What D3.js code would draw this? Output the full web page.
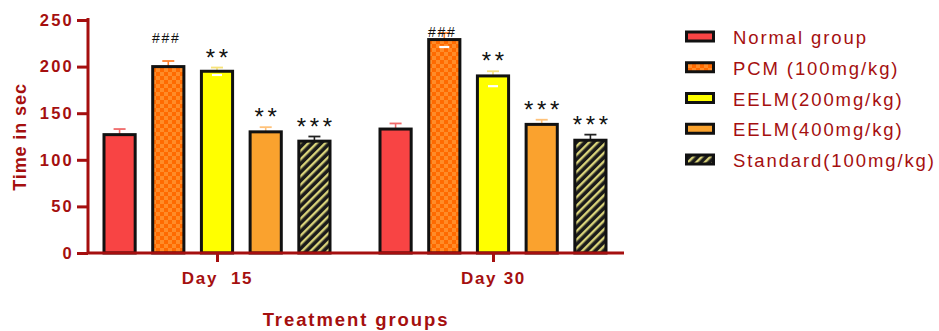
<!DOCTYPE html>
<html>
<head>
<meta charset="utf-8">
<script src="https://cdn.jsdelivr.net/npm/d3@7/dist/d3.min.js"></script>
<style>
  html, body { margin: 0; padding: 0; background: #fff; }
  svg { display: block; }
</style>
</head>
<body>
<svg id="chart" width="939" height="331"></svg>
<script>
// Time points and treatment groups
const days = ["Day  15", "Day 30"];
const groups = ["Normal group", "PCM (100mg/kg)", "EELM(200mg/kg)", "EELM(400mg/kg)", "Standard(100mg/kg)"];

// Mean time (sec) per group, one array per day
const meansDay15 = [127, 200, 195, 130, 120];
const meansDay30 = [133, 229, 190, 138, 121];
// Upper error (SD) per group
const errDay15 = [6, 6, 4, 5, 5];
const errDay30 = [6, 7, 5, 5, 6];
// Lower whisker caps that show through the bar fill (null = hidden)
const lowErrDay15 = [null, null, 4, null, null];
const lowErrDay30 = [null, 8, 11, null, null];
// Significance marks above bars
const sigDay15 = ["", "###", "**", "**", "***"];
const sigDay30 = ["", "###", "**", "***", "***"];

const yTicks = [0, 50, 100, 150, 200, 250];

const axisColor = "#a50f0f";
const fontFam = "Liberation Sans, Arial, sans-serif";
const fills = ["#f84444", "url(#checker)", "#ffff00", "#faa22e", "url(#hatch)"];
const errColors = ["#f06a6a", "#ff7f2a", "#f6e27a", "#ffc27a", "#222"];

const svg = d3.select("#chart");
const defs = svg.append("defs");

// Checkerboard fill for PCM
const chk = defs.append("pattern").attr("id", "checker")
  .attr("patternUnits", "userSpaceOnUse").attr("width", 8).attr("height", 8);
chk.append("rect").attr("width", 8).attr("height", 8).attr("fill", "#ff6a00");
chk.append("rect").attr("width", 4).attr("height", 4).attr("fill", "#ff8c28");
chk.append("rect").attr("x", 4).attr("y", 4).attr("width", 4).attr("height", 4).attr("fill", "#ff8c28");

// Diagonal hatch for Standard
const hat = defs.append("pattern").attr("id", "hatch")
  .attr("patternUnits", "userSpaceOnUse").attr("width", 6).attr("height", 6)
  .attr("patternTransform", "rotate(45)");
hat.append("rect").attr("width", 6).attr("height", 6).attr("fill", "#1a1a1a");
hat.append("rect").attr("x", 0).attr("width", 2.4).attr("height", 6).attr("fill", "#d9d37a");

const plotLeft = 88, plotTop = 20, plotRight = 624, y0 = 253;

const y = d3.scaleLinear().domain([0, 250]).range([y0, plotTop]);
const xDay = d3.scalePoint().domain(days).range([217, 493]);
const xGroup = d3.scaleBand().domain(groups).range([-113, 113]).paddingInner(0.36);

const data = [];
days.forEach((d, di) => {
  const m = di === 0 ? meansDay15 : meansDay30;
  const e = di === 0 ? errDay15 : errDay30;
  const le = di === 0 ? lowErrDay15 : lowErrDay30;
  const s = di === 0 ? sigDay15 : sigDay30;
  groups.forEach((g, gi) => data.push({ day: d, group: g, gi, mean: m[gi], err: e[gi], low: le[gi], sig: s[gi] }));
});

const bw = xGroup.bandwidth();
const bx = d => xDay(d.day) + xGroup(d.group);

// Error bars (upper)
const eb = svg.append("g");
data.forEach(d => {
  const cx = bx(d) + bw / 2;
  eb.append("line").attr("x1", cx).attr("x2", cx).attr("y1", y(d.mean)).attr("y2", y(d.mean + d.err))
    .attr("stroke", errColors[d.gi]).attr("stroke-width", 1.6);
  eb.append("line").attr("x1", cx - 6).attr("x2", cx + 6).attr("y1", y(d.mean + d.err)).attr("y2", y(d.mean + d.err))
    .attr("stroke", errColors[d.gi]).attr("stroke-width", 1.8);
});

// Bars
svg.append("g").selectAll("rect").data(data).join("rect")
  .attr("x", d => bx(d)).attr("y", d => y(d.mean))
  .attr("width", bw).attr("height", d => y(0) - y(d.mean))
  .attr("fill", d => fills[d.gi])
  .attr("stroke", "#111").attr("stroke-width", 3);

// Lower whisker caps showing on the bar face
svg.append("g").selectAll("line").data(data.filter(d => d.low !== null)).join("line")
  .attr("x1", d => bx(d) + bw / 2 - 5).attr("x2", d => bx(d) + bw / 2 + 5)
  .attr("y1", d => y(d.mean - d.low)).attr("y2", d => y(d.mean - d.low))
  .attr("stroke", "#fff").attr("stroke-width", 2.2);

// Significance labels
svg.append("g").selectAll("text").data(data.filter(d => d.sig)).join("text")
  .attr("x", d => bx(d) + bw / 2 + (d.sig === "###" ? -2 : 1.8))
  .attr("y", d => {
    if (d.sig === "###") return d.day === "Day 30" ? y(d.mean) - 3 : y(d.mean + d.err) - 18;
    return y(d.mean + d.err) - 15;
  })
  .attr("text-anchor", "middle")
  .attr("font-family", fontFam)
  .attr("font-size", d => d.sig === "###" ? 14 : 24)
  .attr("dy", d => d.sig === "###" ? 0 : 13)
  .attr("letter-spacing", d => d.sig === "###" ? 1.8 : 3.6)
  .attr("fill", "#111")
  .text(d => d.sig);

// Y axis
const yAxis = svg.append("g").attr("transform", `translate(${plotLeft},0)`)
  .call(d3.axisLeft(y).tickValues(yTicks).tickSize(11).tickPadding(3));
yAxis.select(".domain").attr("stroke", axisColor).attr("stroke-width", 3)
  .attr("d", `M0,${plotTop - 2}V${y0}`);
yAxis.selectAll(".tick line").attr("stroke", axisColor).attr("stroke-width", 3);
yAxis.selectAll(".tick text").attr("fill", axisColor)
  .attr("font-family", fontFam)
  .attr("font-weight", "bold").attr("font-size", 16.5).attr("letter-spacing", 2.2);

// X axis
const xAxis = svg.append("g").attr("transform", `translate(0,${y0})`)
  .call(d3.axisBottom(xDay).tickSize(9).tickPadding(10));
xAxis.select(".domain").attr("stroke", axisColor).attr("stroke-width", 3)
  .attr("d", `M${plotLeft},0H${plotRight}`);
xAxis.selectAll(".tick line").attr("stroke", axisColor).attr("stroke-width", 3);
xAxis.selectAll(".tick text").attr("fill", axisColor)
  .attr("font-family", fontFam)
  .attr("font-weight", "bold").attr("font-size", 17).attr("letter-spacing", 1.7)
  .attr("xml:space", "preserve").style("white-space", "pre");

// Axis titles
svg.append("text").attr("transform", "translate(26,137) rotate(-90)")
  .attr("text-anchor", "middle").attr("fill", axisColor)
  .attr("font-family", fontFam)
  .attr("font-weight", "bold").attr("font-size", 18).attr("letter-spacing", 0.9).text("Time in sec");
svg.append("text").attr("x", 356).attr("y", 326)
  .attr("text-anchor", "middle").attr("fill", axisColor)
  .attr("font-family", fontFam)
  .attr("font-weight", "bold").attr("font-size", 18.5).attr("letter-spacing", 1.9).text("Treatment groups");

// Legend
const legY = d3.scalePoint().domain(groups).range([37, 160]);
const leg = svg.append("g");
groups.forEach((g, i) => {
  leg.append("rect").attr("x", 686.5).attr("y", legY(g) - 5).attr("width", 27).attr("height", 9)
    .attr("fill", fills[i]).attr("stroke", "#111").attr("stroke-width", 3);
  leg.append("text").attr("x", 733).attr("y", legY(g) + 7)
    .attr("fill", axisColor).attr("font-family", fontFam)
    .attr("font-size", 18.5).attr("letter-spacing", 1.9).text(g);
});
</script>
</body>
</html>
